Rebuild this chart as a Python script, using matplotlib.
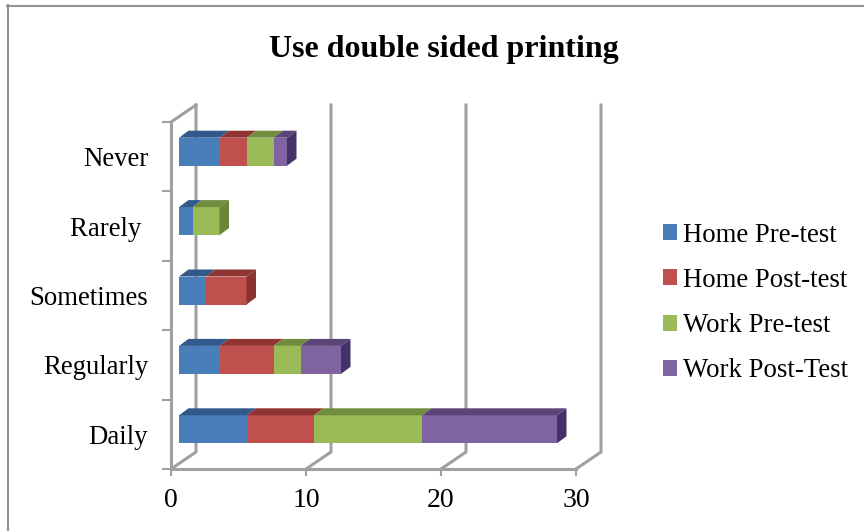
import numpy as np
import matplotlib
matplotlib.use('Agg')
import matplotlib.pyplot as plt
from matplotlib.patches import Polygon, Rectangle

categories = ['Daily', 'Regularly', 'Sometimes', 'Rarely ', 'Never']
home_pre = [5, 3, 2, 1, 3]
home_post = [5, 4, 3, 0, 2]
work_pre = [8, 2, 0, 2, 2]
work_post = [10, 3, 0, 0, 1]
series_names = ['Home Pre-test', 'Home Post-test', 'Work Pre-test', 'Work Post-Test']
x_ticks = [0, 10, 20, 30]

front = ['#4a7ebb', '#c0504d', '#9bbb59', '#8064a2']
top = ['#31598c', '#8f3431', '#728c3e', '#5b4578']
side = ['#2f5486', '#8a3330', '#6c8538', '#46326b']
grid_c = '#a0a0a0'

W, H = 864, 531
plt.rcParams['font.family'] = ['Liberation Serif', 'DejaVu Serif']
fig = plt.figure(figsize=(W / 100, H / 100), dpi=100)

# front plane of the 3d plot, in pixels: x 171-576, y 122-469
ax = fig.add_axes([171 / W, 1 - 469 / H, 405 / W, 347 / H])
ax.set_xlim(0, 30)
ax.set_ylim(-0.5, 4.5)
ax.patch.set_alpha(0)
for s in ax.spines.values():
    s.set_visible(False)

ux = 30 / 405  # data per pixel
uy = 5 / 347
wall_dx, wall_dy = 25 * ux, 17 * uy
bar_dx, bar_dy = 8 * ux, 5 * uy
depth_x, depth_y = 9.5 * ux, 7 * uy
bar_h = 28 * uy

# walls and gridlines
for t in x_ticks:
    ax.plot([t, t + wall_dx, t + wall_dx], [-0.5, -0.5 + wall_dy, 4.5 + wall_dy],
            color=grid_c, lw=2.2, clip_on=False, zorder=1, solid_joinstyle='miter')
ax.plot([0, 0], [-0.5, 4.5], color=grid_c, lw=2.2, clip_on=False, zorder=1)
ax.plot([0, wall_dx], [4.5, 4.5 + wall_dy], color=grid_c, lw=2.2, clip_on=False, zorder=1)
ax.plot([0, 30], [-0.5, -0.5], color=grid_c, lw=2.2, clip_on=False, zorder=1)
for y in np.arange(-0.5, 5):
    ax.plot([-8 * ux, 0], [y, y], color=grid_c, lw=1.5, clip_on=False, zorder=1)
for t in x_ticks:
    ax.plot([t, t], [-0.5, -0.5 - 6 * uy], color=grid_c, lw=1.5, clip_on=False, zorder=1)

# stacked bars with depth faces
series = [home_pre, home_post, work_pre, work_post]
y_pos = np.arange(len(categories))
for i, cat in enumerate(categories):
    left = bar_dx
    yc = y_pos[i] + bar_dy
    y0, y1 = yc - bar_h / 2, yc + bar_h / 2
    last = None
    for j, vals in enumerate(series):
        v = vals[i]
        if v == 0:
            continue
        ax.barh(yc, v, height=bar_h, left=left, color=front[j], edgecolor='none', zorder=3)
        ax.add_patch(Polygon([[left, y1], [left + v, y1], [left + v + depth_x, y1 + depth_y],
                              [left + depth_x, y1 + depth_y]], closed=True, fc=top[j], ec='none', zorder=3))
        left += v
        last = j
    ax.add_patch(Polygon([[left, y0], [left + depth_x, y0 + depth_y], [left + depth_x, y1 + depth_y],
                          [left, y1]], closed=True, fc=side[last], ec='none', zorder=3))

ax.set_xticks(x_ticks)
ax.set_xticklabels([str(t) for t in x_ticks], fontsize=20)
ax.tick_params(axis='x', length=0, pad=13.5)
ax.set_yticks(y_pos)
ax.set_yticklabels(categories, fontsize=19.3)
ax.tick_params(axis='y', length=0, pad=16.5)

fig.text(444 / W, 1 - 50 / H, 'Use double sided printing', fontsize=23, fontweight='bold',
         ha='center', va='center')

# legend
handles = [Rectangle((0, 0), 1, 1, fc=c, ec='none') for c in front]
fig.legend(handles, series_names, loc='center left', bbox_to_anchor=(663 / W, 1 - 303 / H),
           frameon=False, fontsize=19.3, handlelength=0.54, handleheight=0.54,
           handletextpad=0.2, labelspacing=0.75, borderpad=0, borderaxespad=0)

# chart frame
fig.add_artist(plt.Line2D([8 / W, 8 / W], [0, 1 - 5 / H], color='#929292', lw=1.5, transform=fig.transFigure))
fig.add_artist(plt.Line2D([7 / W, 1], [1 - 6 / H, 1 - 6 / H], color='#929292', lw=1.5, transform=fig.transFigure))

fig.savefig('out.png', dpi=100)
